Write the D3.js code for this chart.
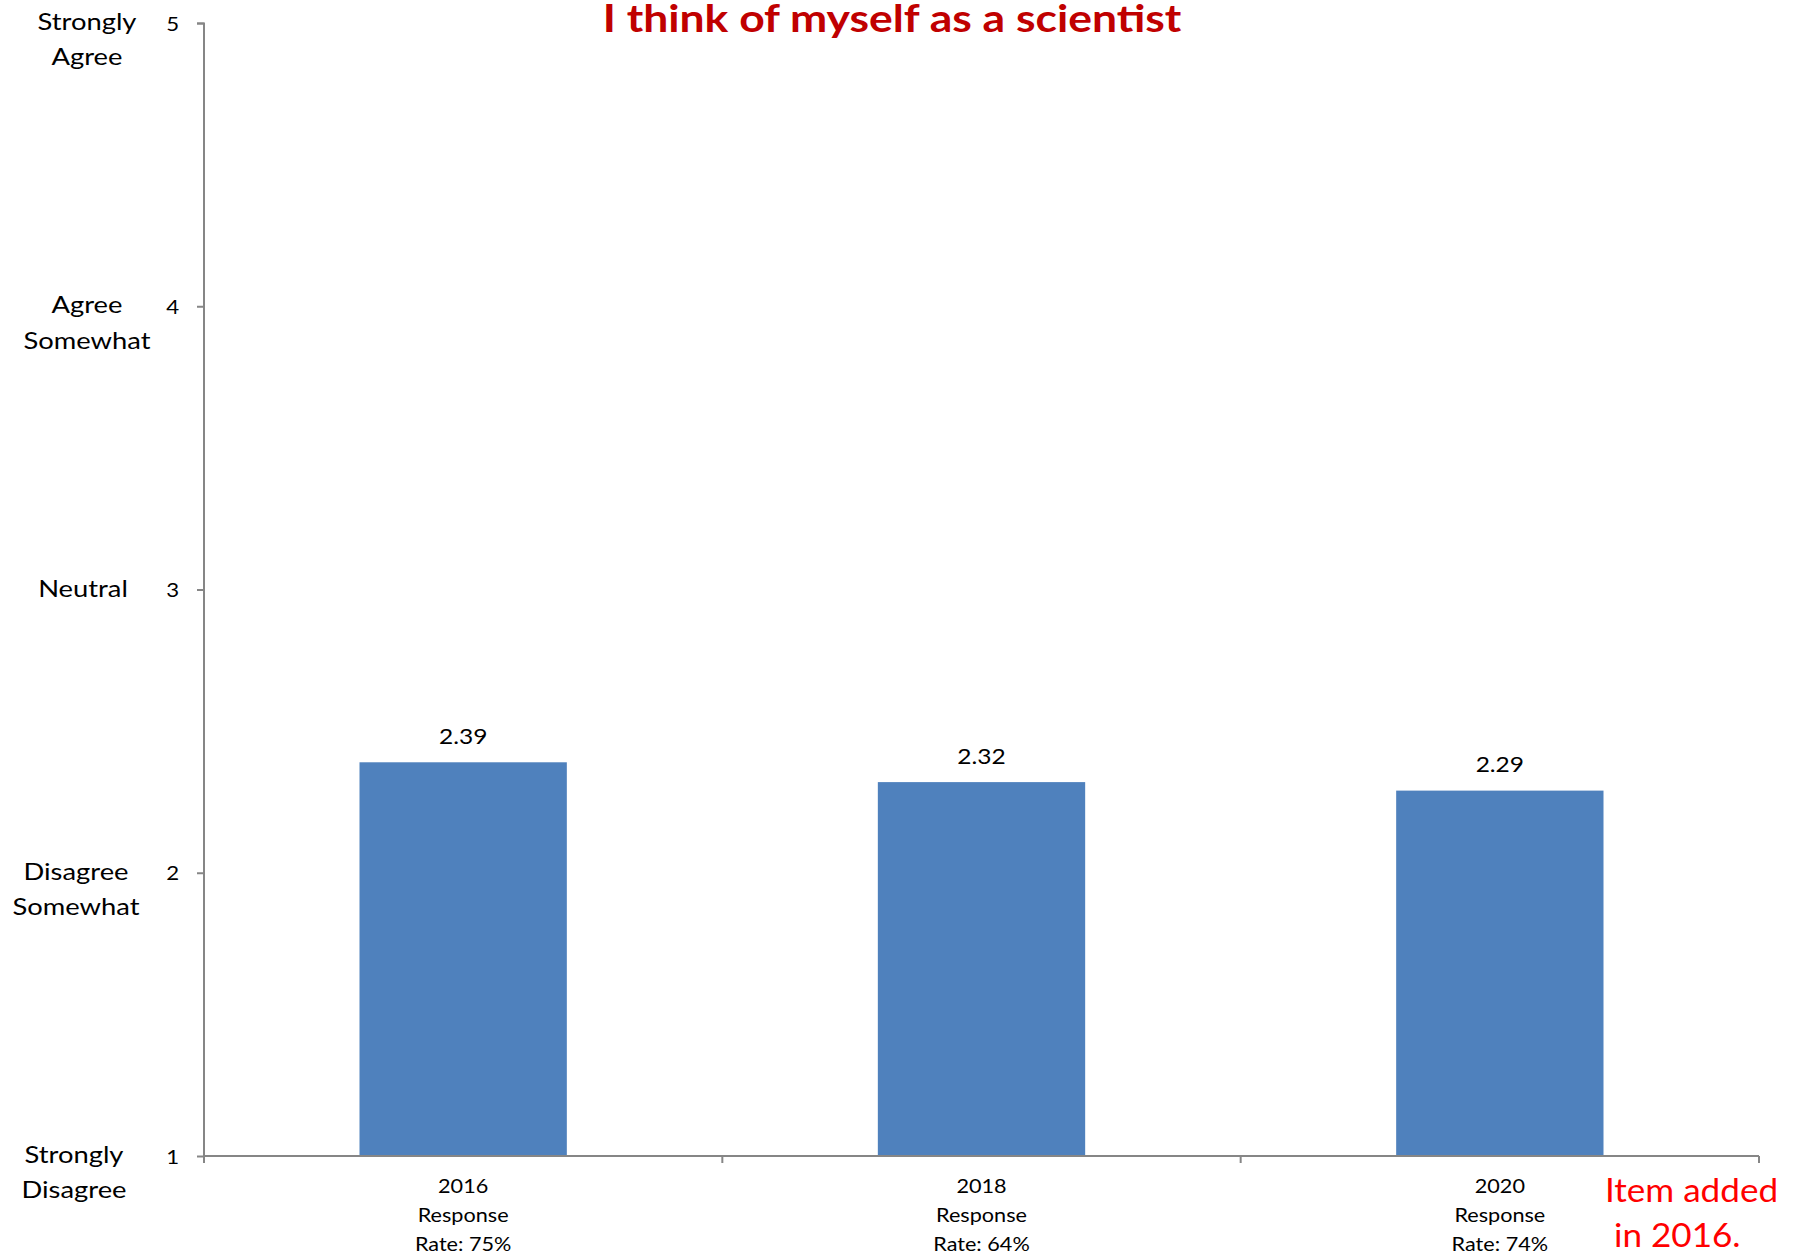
<!DOCTYPE html>
<html>
<head>
<meta charset="utf-8">
<script src="https://cdn.jsdelivr.net/npm/d3@7"></script>
<style>
  body { margin: 0; background: #fff; }
  svg text { font-family: Lato, "Open Sans", sans-serif; }
</style>
</head>
<body>
<div id="chart"></div>
<script>
// Chart data
const years = ['2016', '2018', '2020']
const responseRates = ['75%', '64%', '74%']
const means = [2.39, 2.32, 2.29]
const yTicks = [1, 2, 3, 4, 5]
const yTickNames = [
  ['Strongly', 'Disagree'],
  ['Disagree', 'Somewhat'],
  ['Neutral'],
  ['Agree', 'Somewhat'],
  ['Strongly', 'Agree'],
]
const title = 'I think of myself as a scientist'
const note = ['Item added', ' in 2016.']

// Layout
const width = 1797
const height = 1258
const margin = { top: 23, right: 38, bottom: 102, left: 204 }
const nameX = [74, 76, 83, 87, 87] // centre of the text names per tick
const sx = 1.14 // the reference text is a little wider than Lato

const svg = d3
  .select('#chart')
  .append('svg')
  .attr('width', width)
  .attr('height', height)

const innerW = width - margin.left - margin.right
const innerH = height - margin.top - margin.bottom

const g = svg
  .append('g')
  .attr('transform', `translate(${margin.left},${margin.top})`)

// Adds a (possibly multi-line) text, stretched horizontally
function addText(parent, lines, x, y, size, lineGap, opts = {}) {
  const txt = parent
    .append('text')
    .attr('transform', `translate(${x},${y}) scale(${opts.sx || sx},1)`)
    .attr('text-anchor', opts.anchor || 'middle')
    .attr('font-size', size)
    .attr('font-weight', opts.weight || 'normal')
    .attr('fill', opts.fill || '#000')
    .attr('xml:space', 'preserve')
  lines.forEach((l, j) => {
    txt.append('tspan').attr('x', 0).attr('y', j * lineGap).text(l)
  })
  return txt
}

// Scales
const x = d3.scaleBand().domain(years).range([0, innerW]).paddingInner(0.6).paddingOuter(0.3)
const xOuter = d3.scaleBand().domain(years).range([0, innerW])
const y = d3.scaleLinear().domain([1, 5]).range([innerH, 0])

// Bars
g.selectAll('.bar')
  .data(means)
  .enter()
  .append('rect')
  .attr('class', 'bar')
  .attr('x', (d, i) => x(years[i]))
  .attr('width', x.bandwidth())
  .attr('y', d => y(d))
  .attr('height', d => innerH - y(d))
  .attr('fill', '#4F81BD')

// Value labels
means.forEach((d, i) => {
  addText(g, [d.toFixed(2)], x(years[i]) + x.bandwidth() / 2, y(d) - 18.5, 21.5, 0)
})

// Y axis
const yAxis = d3.axisLeft(y).tickValues(yTicks).tickSize(7).tickPadding(18).tickFormat(d3.format('d'))
const yAxisG = g.append('g').attr('class', 'y-axis').call(yAxis)
yAxisG.select('.domain').attr('stroke', '#868686').attr('stroke-width', 2).attr('d', `M-7,0.5H0V${innerH}`)
yAxisG.selectAll('.tick line').attr('stroke', '#868686').attr('stroke-width', 2)
yAxisG
  .selectAll('.tick text')
  .attr('font-size', 19.5)
  .attr('fill', '#000')
  .attr('font-family', 'Lato')
  .attr('x', -25 / sx)
  .attr('dy', null)
  .attr('y', 7)
  .attr('transform', `scale(${sx},1)`)

// Y tick names
yTicks.forEach((t, i) => {
  addText(svg, yTickNames[i], nameX[i], margin.top + y(t) + 7, 24, 35.5)
})

// X axis
const xAxisG = g.append('g').attr('class', 'x-axis').attr('transform', `translate(0,${innerH})`)
xAxisG
  .append('path')
  .attr('stroke', '#868686')
  .attr('stroke-width', 2)
  .attr('fill', 'none')
  .attr('d', `M0,0H${innerW}`)
const boundaries = years.map(d => xOuter(d)).concat([innerW])
xAxisG
  .selectAll('.xtick')
  .data(boundaries)
  .enter()
  .append('line')
  .attr('x1', d => d)
  .attr('x2', d => d)
  .attr('y1', 0)
  .attr('y2', 7)
  .attr('stroke', '#868686')
  .attr('stroke-width', 2)

// X labels
years.forEach((yr, i) => {
  const cx = x(yr) + x.bandwidth() / 2
  addText(xAxisG, [yr, 'Response', `Rate: ${responseRates[i]}`], cx, 37, 18.5, 29, { sx: 1.17 })
})

// Title
addText(svg, [title], 892, 32, 39, 0, { weight: 'bold', fill: '#C00000' })

// Note
addText(svg, note, 1605, 1202, 32.5, 45, { anchor: 'start', fill: '#FF0000', sx: 1.08 })
</script>
</body>
</html>
